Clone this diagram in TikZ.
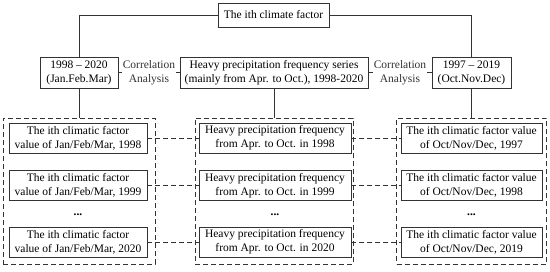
\documentclass[tikz,border=0pt]{standalone}
\usepackage{fontspec}
\setmainfont{Liberation Serif}
\usetikzlibrary{positioning,calc}

\begin{document}
\begin{tikzpicture}[x=1pt,y=-1pt, every node/.style={font=\fontsize{11.5}{14}\selectfont}]
\definecolor{LINECOL}{HTML}{333333}
\tikzset{box/.style={draw=LINECOL,line width=.8pt,align=center,inner sep=0pt,minimum height=30},
  group/.style={draw=LINECOL,line width=.7pt,dash pattern=on 5pt off 3pt,minimum width=#1,minimum height=146,inner sep=0pt},
  link/.style={LINECOL,line width=.8pt},
  dlink/.style={LINECOL,line width=.7pt,dash pattern=on 5pt off 3pt}}
\fill[white] (0,0) rectangle (550,272);
\useasboundingbox (0,0) rectangle (550,272);
% top row
\node[box,minimum width=111,minimum height=24] (top) at (273.5,15) {The ith climate factor};
\node[box,minimum width=78,minimum height=31] (yl) at (79,72.5) {1998 – 2020\\(Jan.Feb.Mar)};
\node[box,minimum width=188,minimum height=31] (ym) at (274,72.5) {Heavy precipitation frequency series\\(mainly from Apr. to Oct.), 1998-2020};
\node[box,minimum width=79,minimum height=31] (yr) at (471.5,72.5) {1997 – 2019\\(Oct.Nov.Dec)};
\draw[link] (top.west) -| (yl.north);
\draw[link] (top.east) -| (yr.north);
\draw[link] (yl.east) -- (ym.west) node[midway,fill=white,inner sep=1pt,align=center] (cl) {Correlation\\Analysis};
\draw[link] (ym.east) -- (yr.west) node[midway,fill=white,inner sep=1pt,align=center] (cr) {Correlation\\Analysis};
% dashed groups
\node[group=152] (gl) at (79,191) {};
\node[group=158] (gm) at (274,191) {};
\node[group=150] (gr) at (471.5,191) {};
\draw[link] (yl.south) -- (gl.north);
\draw[link] (ym.south) -- (gm.north);
\draw[link] (yr.south) -- (gr.north);
\foreach \r/\y/\a/\c in {1/138/1998/1997,2/185.5/1999/1998,3/242/2020/2019}{
  \node[box,minimum width=138] (l\r) at (78,\y) {The ith climatic factor\\value of Jan/Feb/Mar, \a};
  \node[box,minimum width=152] (m\r) at (275,\y) {Heavy precipitation frequency\\from Apr. to Oct. in \a};
  \node[box,minimum width=141] (r\r) at (471.5,\y) {The ith climatic factor value\\of Oct/Nov/Dec, \c};
  \draw[dlink] (l\r.east) -- (m\r.west);
  \draw[dlink] (m\r.east) -- (r\r.west);
}
\foreach \x/\n in {78/l,275/m,471.5/r}{\node (dots\n) at (\x,215) {\textbf{...}};}
\end{tikzpicture}
\end{document}
